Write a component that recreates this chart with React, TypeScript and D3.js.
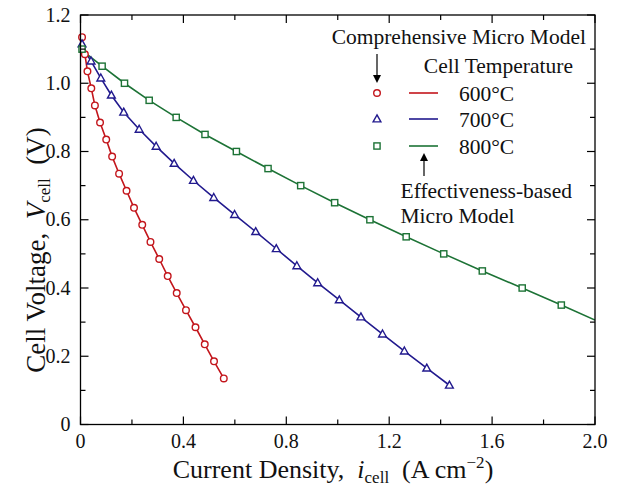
import React from "react";
import * as d3 from "d3";

// ---- data ----
const comp600I = [0.006, 0.017, 0.027, 0.042, 0.056, 0.076, 0.1, 0.123, 0.15, 0.179, 0.208, 0.24, 0.272, 0.306, 0.339, 0.374, 0.41, 0.447, 0.483, 0.519, 0.557];
const comp600V = [1.135, 1.085, 1.035, 0.985, 0.935, 0.885, 0.835, 0.785, 0.735, 0.685, 0.635, 0.585, 0.535, 0.485, 0.435, 0.385, 0.335, 0.285, 0.235, 0.185, 0.135];
const comp700I = [0.006, 0.041, 0.079, 0.12, 0.168, 0.228, 0.294, 0.364, 0.439, 0.518, 0.599, 0.681, 0.761, 0.841, 0.922, 1.006, 1.09, 1.174, 1.259, 1.346, 1.434];
const comp700V = [1.115, 1.065, 1.015, 0.965, 0.915, 0.865, 0.815, 0.765, 0.715, 0.665, 0.615, 0.565, 0.515, 0.465, 0.415, 0.365, 0.315, 0.265, 0.215, 0.165, 0.115];
const comp800I = [0.006, 0.084, 0.171, 0.267, 0.372, 0.484, 0.606, 0.729, 0.856, 0.988, 1.125, 1.266, 1.412, 1.562, 1.717, 1.869];
const comp800V = [1.1, 1.05, 1.0, 0.95, 0.9, 0.85, 0.8, 0.75, 0.7, 0.65, 0.6, 0.55, 0.5, 0.45, 0.4, 0.35];
const eff600I = [0.0, 0.017, 0.027, 0.042, 0.056, 0.076, 0.1, 0.123, 0.15, 0.179, 0.208, 0.24, 0.272, 0.306, 0.339, 0.374, 0.41, 0.447, 0.483, 0.519, 0.557];
const eff600V = [1.135, 1.085, 1.035, 0.985, 0.935, 0.885, 0.835, 0.785, 0.735, 0.685, 0.635, 0.585, 0.535, 0.485, 0.435, 0.385, 0.335, 0.285, 0.235, 0.185, 0.135];
const eff700I = [0.0, 0.041, 0.079, 0.12, 0.168, 0.228, 0.294, 0.364, 0.439, 0.518, 0.599, 0.681, 0.761, 0.841, 0.922, 1.006, 1.09, 1.174, 1.259, 1.346, 1.434];
const eff700V = [1.115, 1.065, 1.015, 0.965, 0.915, 0.865, 0.815, 0.765, 0.715, 0.665, 0.615, 0.565, 0.515, 0.465, 0.415, 0.365, 0.315, 0.265, 0.215, 0.165, 0.115];
const eff800I = [0.0, 0.084, 0.171, 0.267, 0.372, 0.484, 0.606, 0.729, 0.856, 0.988, 1.125, 1.266, 1.412, 1.562, 1.717, 1.869, 2.0];
const eff800V = [1.1, 1.05, 1.0, 0.95, 0.9, 0.85, 0.8, 0.75, 0.7, 0.65, 0.6, 0.55, 0.5, 0.45, 0.4, 0.35, 0.306];

const temps = ["600°C", "700°C", "800°C"];
const colors = ["#c3161c", "#221a8e", "#1d7336"];
const xTicks = [0, 0.4, 0.8, 1.2, 1.6, 2.0];
const xTickLabels = ["0", "0.4", "0.8", "1.2", "1.6", "2.0"];
const yTicks = [0, 0.2, 0.4, 0.6, 0.8, 1.0, 1.2];
const yTickLabels = ["0", "0.2", "0.4", "0.6", "0.8", "1.0", "1.2"];

const FONT = "'Liberation Serif', 'Times New Roman', serif";

export default function App() {
  const W = 620, H = 495;
  const left = 80.5, right = 595, top = 15, bottom = 424.5;
  const x = d3.scaleLinear().domain([0, 2.0]).range([left, right]);
  const y = d3.scaleLinear().domain([0, 1.2]).range([bottom, top]);
  const line = d3.line<[number, number]>().x((d) => x(d[0])).y((d) => y(d[1]));

  const comp = [
    { i: comp600I, v: comp600V },
    { i: comp700I, v: comp700V },
    { i: comp800I, v: comp800V },
  ];
  const eff = [
    { i: eff600I, v: eff600V },
    { i: eff700I, v: eff700V },
    { i: eff800I, v: eff800V },
  ];

  const marker = (k: number, cx: number, cy: number, key: string) => {
    const c = colors[k];
    if (k === 0) return <circle key={key} cx={cx} cy={cy} r={3.3} fill="white" stroke={c} strokeWidth={1.4} />;
    if (k === 1) {
      const s = 4.1;
      const p = `M${cx},${cy - s} L${cx + s * 0.95},${cy + s * 0.7} L${cx - s * 0.95},${cy + s * 0.7} Z`;
      return <path key={key} d={p} fill="white" stroke={c} strokeWidth={1.4} />;
    }
    return <rect key={key} x={cx - 3.1} y={cy - 3.1} width={6.2} height={6.2} fill="white" stroke={c} strokeWidth={1.4} />;
  };

  const xMinor = d3.range(0, 2.0001, 0.2);
  const yMinor = d3.range(0, 1.2001, 0.1);
  const isMajorX = (t: number) => Math.abs(t / 0.4 - Math.round(t / 0.4)) < 1e-6;
  const isMajorY = (t: number) => Math.abs(t / 0.2 - Math.round(t / 0.2)) < 1e-6;

  const legRows = [93, 119, 146];

  return (
    <svg width={W} height={H} style={{ position: "absolute", left: 0, top: 0, background: "white" }} fontFamily={FONT}>
      <defs>
        <clipPath id="plot">
          <rect x={left} y={top} width={right - left} height={bottom - top} />
        </clipPath>
      </defs>
      {/* lines */}
      <g clipPath="url(#plot)">
        {eff.map((s, k) => (
          <path key={"l" + k} d={line(s.i.map((d, j) => [d, s.v[j]] as [number, number])) || ""} fill="none" stroke={colors[k]} strokeWidth={1.6} />
        ))}
      </g>
      {comp.map((s, k) => s.i.map((d, j) => marker(k, x(d), y(s.v[j]), `m${k}-${j}`)))}

      {/* frame */}
      <rect x={left} y={top} width={right - left} height={bottom - top} fill="none" stroke="black" strokeWidth={1.3} />
      {xMinor.map((t, j) => {
        const len = isMajorX(t) ? 8 : 5;
        return (
          <g key={"xt" + j}>
            <line x1={x(t)} x2={x(t)} y1={bottom} y2={bottom - len} stroke="black" strokeWidth={1.2} />
            <line x1={x(t)} x2={x(t)} y1={top} y2={top + len} stroke="black" strokeWidth={1.2} />
          </g>
        );
      })}
      {yMinor.map((t, j) => {
        const len = isMajorY(t) ? 8 : 5;
        return (
          <g key={"yt" + j}>
            <line x1={left} x2={left + len} y1={y(t)} y2={y(t)} stroke="black" strokeWidth={1.2} />
            <line x1={right} x2={right - len} y1={y(t)} y2={y(t)} stroke="black" strokeWidth={1.2} />
          </g>
        );
      })}
      {xTicks.map((t, j) => (
        <text key={"xl" + j} x={x(t)} y={bottom + 23} textAnchor="middle" fontSize={20} fill="#111">
          {xTickLabels[j]}
        </text>
      ))}
      {yTicks.map((t, j) => (
        <text key={"yl" + j} x={left - 10} y={y(t) + 6.5} textAnchor="end" fontSize={20} fill="#111">
          {yTickLabels[j]}
        </text>
      ))}

      {/* axis titles */}
      <text x={333} y={478} textAnchor="middle" fontSize={26} fill="#111">
        Current Density,{"\u00A0\u00A0"}
        <tspan fontStyle="italic">i</tspan>
        <tspan fontSize={17} dy={5}>cell</tspan>
        <tspan dy={-5}>{"\u00A0\u00A0"}(A{"\u2009"}cm</tspan>
        <tspan fontSize={17} dy={-10}>{"\u22122"}</tspan>
        <tspan dy={10}>)</tspan>
      </text>
      <text transform={`translate(45,250) rotate(-90)`} textAnchor="middle" fontSize={27} fill="#111">
        Cell Voltage,{"\u00A0\u00A0"}
        <tspan fontStyle="italic">V</tspan>
        <tspan fontSize={17} dy={5}>cell</tspan>
        <tspan dy={-5}>{"\u00A0\u00A0"}(V)</tspan>
      </text>

      {/* legend */}
      <text x={586} y={44} textAnchor="end" fontSize={21.5} fill="#111">Comprehensive Micro Model</text>
      <line x1={377} x2={377} y1={54} y2={76} stroke="black" strokeWidth={1.2} />
      <path d="M373,75 L381,75 L377,83 Z" fill="black" />
      <text x={573} y={73} textAnchor="end" fontSize={21.5} fill="#111">Cell Temperature</text>
      {temps.map((t, k) => (
        <g key={"lg" + k}>
          {marker(k, 377, legRows[k], "lgm" + k)}
          <line x1={409} x2={438} y1={legRows[k]} y2={legRows[k]} stroke={colors[k]} strokeWidth={1.6} />
          <text x={459} y={legRows[k] + 7.5} fontSize={21.5} fill="#111">{t}</text>
        </g>
      ))}
      <line x1={424} x2={424} y1={176} y2={160} stroke="black" strokeWidth={1.2} />
      <path d="M420,161 L428,161 L424,153 Z" fill="black" />
      <text x={400.5} y={198} fontSize={21.5} fill="#111">Effectiveness-based</text>
      <text x={400.5} y={223} fontSize={21.5} fill="#111">Micro Model</text>
    </svg>
  );
}
